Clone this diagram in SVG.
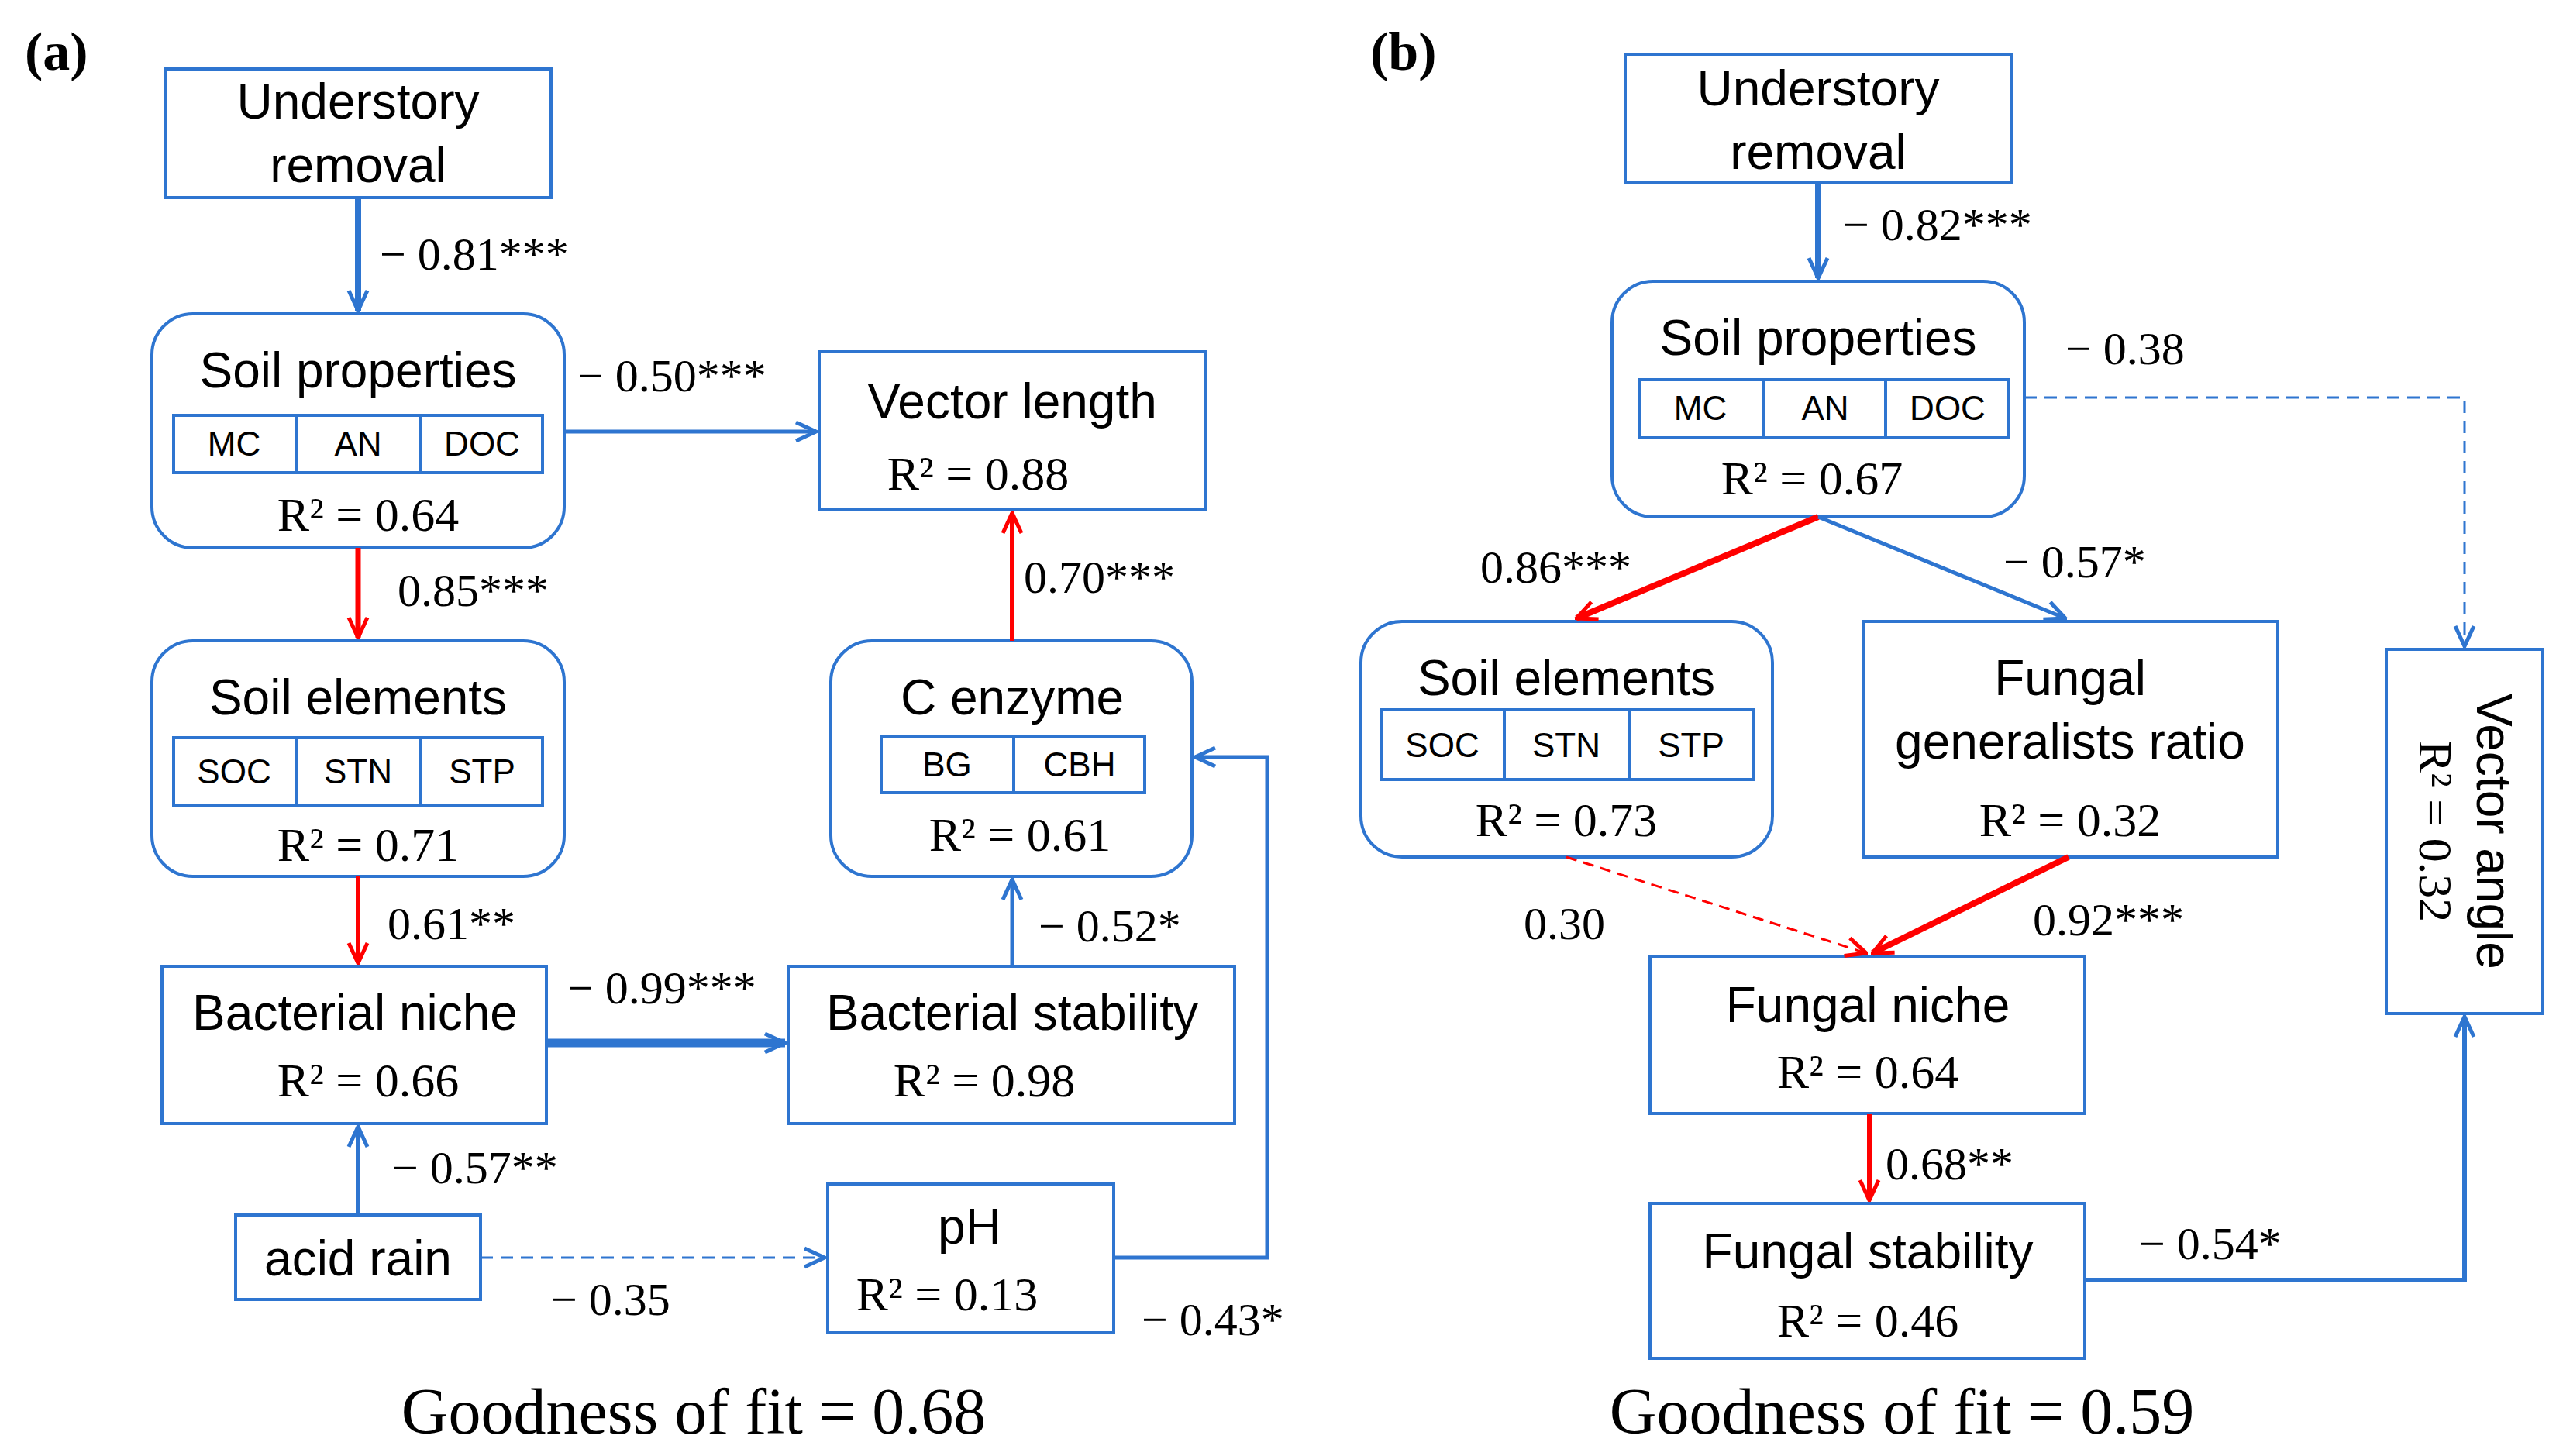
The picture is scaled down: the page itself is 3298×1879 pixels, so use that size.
<svg xmlns="http://www.w3.org/2000/svg" width="3298" height="1879" viewBox="0 0 3298 1879">
<style>
.bx{fill:#fff;stroke:#2E75D0;stroke-width:4}
.sb{fill:none;stroke:#2E75D0;stroke-width:4}
.t{font-family:"Liberation Sans",Arial,sans-serif;font-size:64px;text-anchor:middle;fill:#000}
.s{font-family:"Liberation Sans",Arial,sans-serif;font-size:44px;text-anchor:middle;fill:#000}
.r{font-family:"Liberation Serif","Times New Roman",serif;font-size:62px;text-anchor:middle;fill:#000}
.l{font-family:"Liberation Serif","Times New Roman",serif;font-size:60px;fill:#000}
.g{font-family:"Liberation Serif","Times New Roman",serif;font-size:84px;text-anchor:middle;fill:#000}
.p{font-family:"Liberation Serif","Times New Roman",serif;font-size:70px;font-weight:bold;fill:#000}
.b{fill:none;stroke:#2E75D0}
.rd{fill:none;stroke:#FF0000}
</style>
<defs>
<marker id="ab" markerUnits="userSpaceOnUse" viewBox="-30 -15 32 30" refX="0" refY="0" markerWidth="32" markerHeight="30" orient="auto"><path d="M-26,-12 L0,0 L-26,12" fill="none" stroke="#2E75D0" stroke-width="5"/></marker>
<marker id="ar" markerUnits="userSpaceOnUse" viewBox="-30 -15 32 30" refX="0" refY="0" markerWidth="32" markerHeight="30" orient="auto"><path d="M-26,-12 L0,0 L-26,12" fill="none" stroke="#FF0000" stroke-width="5"/></marker>
</defs>
<text class="p" x="32" y="90">(a)</text>
<text class="p" x="1768" y="90">(b)</text>
<g id="a-ur"><rect class="bx" x="213" y="89" width="498" height="166"/><text class="t" x="462" y="153">Understory</text><text class="t" x="462" y="235">removal</text></g>
<g id="a-sp"><rect class="bx" x="196" y="405" width="532" height="302" rx="53"/><text class="t" x="462" y="500">Soil properties</text><rect class="sb" x="224" y="536" width="476" height="74"/><line class="sb" x1="383" y1="536" x2="383" y2="610"/><line class="sb" x1="542" y1="536" x2="542" y2="610"/><text class="s" x="302" y="588">MC</text><text class="s" x="462" y="588">AN</text><text class="s" x="622" y="588">DOC</text><text class="r" x="475" y="685">R² = 0.64</text></g>
<g id="a-vl"><rect class="bx" x="1057" y="454" width="498" height="204"/><text class="t" x="1306" y="540">Vector length</text><text class="r" x="1262" y="632">R² = 0.88</text></g>
<g id="a-se"><rect class="bx" x="196" y="827" width="532" height="304" rx="53"/><text class="t" x="462" y="922">Soil elements</text><rect class="sb" x="224" y="952" width="476" height="88"/><line class="sb" x1="383" y1="952" x2="383" y2="1040"/><line class="sb" x1="542" y1="952" x2="542" y2="1040"/><text class="s" x="302" y="1011">SOC</text><text class="s" x="462" y="1011">STN</text><text class="s" x="622" y="1011">STP</text><text class="r" x="475" y="1111">R² = 0.71</text></g>
<g id="a-ce"><rect class="bx" x="1072" y="827" width="466" height="304" rx="53"/><text class="t" x="1306" y="922">C enzyme</text><rect class="sb" x="1137" y="950" width="340" height="73"/><line class="sb" x1="1308" y1="950" x2="1308" y2="1023"/><text class="s" x="1222" y="1002">BG</text><text class="s" x="1393" y="1002">CBH</text><text class="r" x="1316" y="1098">R² = 0.61</text></g>
<g id="a-bn"><rect class="bx" x="209" y="1247" width="496" height="203"/><text class="t" x="458" y="1329">Bacterial niche</text><text class="r" x="475" y="1415">R² = 0.66</text></g>
<g id="a-bs"><rect class="bx" x="1017" y="1247" width="576" height="203"/><text class="t" x="1306" y="1329">Bacterial stability</text><text class="r" x="1270" y="1415">R² = 0.98</text></g>
<g id="a-ac"><rect class="bx" x="304" y="1568" width="316" height="109"/><text class="t" x="462" y="1646">acid rain</text></g>
<g id="a-ph"><rect class="bx" x="1068" y="1528" width="369" height="192"/><text class="t" x="1251" y="1605">pH</text><text class="r" x="1222" y="1691">R² = 0.13</text></g>
<text class="g" x="895" y="1850">Goodness of fit = 0.68</text>

<g id="b-ur"><rect class="bx" x="2097" y="70" width="498" height="166"/><text class="t" x="2346" y="136">Understory</text><text class="t" x="2346" y="218">removal</text></g>
<g id="b-sp"><rect class="bx" x="2080" y="363" width="532" height="304" rx="53"/><text class="t" x="2346" y="458">Soil properties</text><rect class="sb" x="2116" y="490" width="475" height="75"/><line class="sb" x1="2275" y1="490" x2="2275" y2="565"/><line class="sb" x1="2433" y1="490" x2="2433" y2="565"/><text class="s" x="2194" y="542">MC</text><text class="s" x="2355" y="542">AN</text><text class="s" x="2513" y="542">DOC</text><text class="r" x="2338" y="638">R² = 0.67</text></g>
<g id="b-se"><rect class="bx" x="1756" y="802" width="531" height="304" rx="53"/><text class="t" x="2021" y="897">Soil elements</text><rect class="sb" x="1783" y="916" width="479" height="90"/><line class="sb" x1="1941" y1="916" x2="1941" y2="1006"/><line class="sb" x1="2102" y1="916" x2="2102" y2="1006"/><text class="s" x="1861" y="977">SOC</text><text class="s" x="2021" y="977">STN</text><text class="s" x="2182" y="977">STP</text><text class="r" x="2021" y="1079">R² = 0.73</text></g>
<g id="b-fg"><rect class="bx" x="2405" y="802" width="534" height="304"/><text class="t" x="2671" y="897">Fungal</text><text class="t" x="2671" y="979">generalists ratio</text><text class="r" x="2671" y="1079">R² = 0.32</text></g>
<g id="b-va"><rect class="bx" x="3079" y="838" width="202" height="470"/><text class="t" transform="translate(3196,1073) rotate(90)" x="0" y="0">Vector angle</text><text class="r" transform="translate(3122,1073) rotate(90)" x="0" y="0">R² = 0.32</text></g>
<g id="b-fn"><rect class="bx" x="2129" y="1234" width="561" height="203"/><text class="t" x="2410" y="1319">Fungal niche</text><text class="r" x="2410" y="1404">R² = 0.64</text></g>
<g id="b-fs"><rect class="bx" x="2129" y="1553" width="561" height="200"/><text class="t" x="2410" y="1637">Fungal stability</text><text class="r" x="2410" y="1725">R² = 0.46</text></g>
<text class="g" x="2454" y="1850">Goodness of fit = 0.59</text>

<g id="connectors">
<line class="b" stroke-width="8" x1="462" y1="255" x2="462" y2="401" marker-end="url(#ab)"/>
<line class="b" stroke-width="5" x1="728" y1="557" x2="1053" y2="557" marker-end="url(#ab)"/>
<line class="rd" stroke-width="7" x1="462" y1="707" x2="462" y2="823" marker-end="url(#ar)"/>
<line class="rd" stroke-width="6" x1="462" y1="1131" x2="462" y2="1243" marker-end="url(#ar)"/>
<line class="b" stroke-width="11" x1="705" y1="1346" x2="1013" y2="1346" marker-end="url(#ab)"/>
<line class="b" stroke-width="5" x1="1306" y1="1247" x2="1306" y2="1135" marker-end="url(#ab)"/>
<line class="rd" stroke-width="6" x1="1306" y1="827" x2="1306" y2="662" marker-end="url(#ar)"/>
<line class="b" stroke-width="6" x1="462" y1="1568" x2="462" y2="1454" marker-end="url(#ab)"/>
<line class="b" stroke-width="3" stroke-dasharray="16 10" x1="620" y1="1623" x2="1064" y2="1623" marker-end="url(#ab)"/>
<polyline class="b" stroke-width="5" points="1437,1623 1635,1623 1635,977 1542,977" marker-end="url(#ab)"/>

<line class="b" stroke-width="8" x1="2346" y1="236" x2="2346" y2="359" marker-end="url(#ab)"/>
<line class="rd" stroke-width="8" x1="2346" y1="667" x2="2034" y2="798" marker-end="url(#ar)"/>
<line class="b" stroke-width="5" x1="2346" y1="667" x2="2665" y2="798" marker-end="url(#ab)"/>
<polyline class="b" stroke-width="3" stroke-dasharray="16 10" points="2612,513 3180,513 3180,834" marker-end="url(#ab)"/>
<line class="rd" stroke-width="3" stroke-dasharray="14 9" x1="2021" y1="1106" x2="2408" y2="1230" marker-end="url(#ar)"/>
<line class="rd" stroke-width="8" x1="2669" y1="1106" x2="2416" y2="1230" marker-end="url(#ar)"/>
<line class="rd" stroke-width="6" x1="2412" y1="1437" x2="2412" y2="1549" marker-end="url(#ar)"/>
<polyline class="b" stroke-width="6" points="2690,1652 3180,1652 3180,1312" marker-end="url(#ab)"/>

<text class="l" x="490" y="348">− 0.81***</text>
<text class="l" x="745" y="505">− 0.50***</text>
<text class="l" x="513" y="782">0.85***</text>
<text class="l" x="500" y="1212">0.61**</text>
<text class="l" x="732" y="1295">− 0.99***</text>
<text class="l" x="1340" y="1215">− 0.52*</text>
<text class="l" x="1321" y="765">0.70***</text>
<text class="l" x="506" y="1527">− 0.57**</text>
<text class="l" x="711" y="1697">− 0.35</text>
<text class="l" x="1473" y="1723">− 0.43*</text>
<text class="l" x="2378" y="310">− 0.82***</text>
<text class="l" x="1910" y="752">0.86***</text>
<text class="l" x="2585" y="745">− 0.57*</text>
<text class="l" x="2665" y="470">− 0.38</text>
<text class="l" x="1966" y="1212">0.30</text>
<text class="l" x="2623" y="1207">0.92***</text>
<text class="l" x="2433" y="1522">0.68**</text>
<text class="l" x="2760" y="1625">− 0.54*</text>
</g>
</svg>
